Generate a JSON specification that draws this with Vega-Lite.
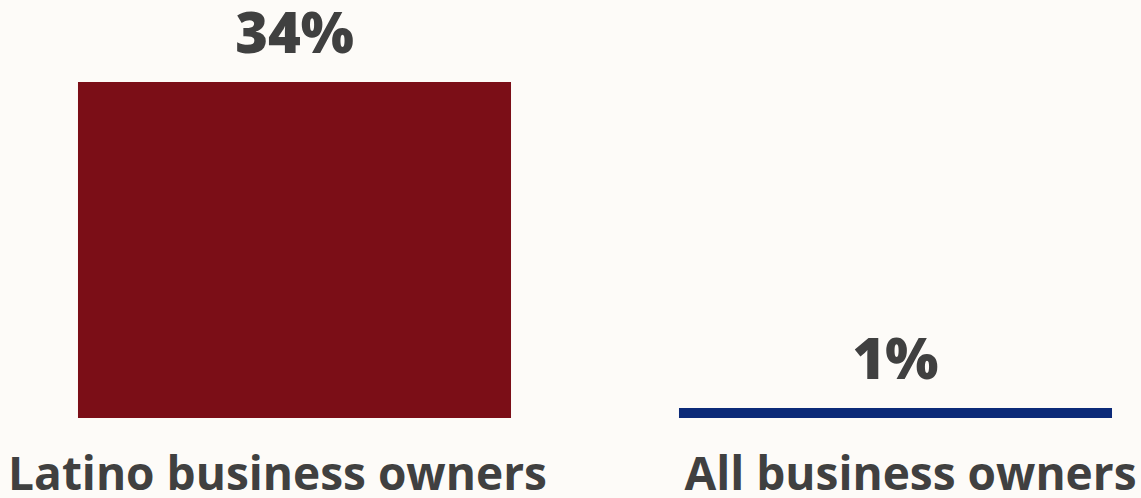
{
  "$schema": "https://vega.github.io/schema/vega-lite/v6.json",
  "width": 1141,
  "height": 418,
  "autosize": {"type": "none"},
  "padding": {"left": 0, "top": 0, "right": 0, "bottom": 80},
  "background": "#fdfbf8",
  "config": {"view": {"stroke": null}},
  "data": {"values": [
    {"group": "Latino business owners", "share": 0.34},
    {"group": "All business owners", "share": 0.01}
  ]},
  "encoding": {
    "x": {
      "field": "group", "type": "nominal", "sort": null,
      "scale": {"paddingInner": 0.2795, "paddingOuter": 0.089, "align": 0.729},
      "axis": {
        "title": null, "domain": false, "ticks": false,
        "labelFontSize": 46, "labelFont": "Open Sans", "labelFontWeight": "bold",
        "labelColor": "#404040", "labelPadding": 71, "labelBaseline": "alphabetic",
        "labelAngle": 0, "labelLimit": 0, "labelOverlap": false,
        "labelOffset": {"condition": {"test": "datum.value === 'Latino business owners'", "value": -17}, "value": 15}
      }
    },
    "y": {"field": "share", "type": "quantitative", "scale": {"domain": [0, 0.423], "nice": false}, "axis": null}
  },
  "layer": [
    {
      "mark": {"type": "bar"},
      "encoding": {
        "color": {
          "field": "group", "type": "nominal",
          "scale": {"domain": ["Latino business owners", "All business owners"], "range": ["#7b0e17", "#0c2a78"]},
          "legend": null
        }
      }
    },
    {
      "mark": {"type": "text", "dy": -29, "baseline": "alphabetic", "font": "Open Sans", "fontWeight": 800, "fontSize": 56, "color": "#404040"},
      "encoding": {"text": {"field": "share", "type": "quantitative", "format": ".0%"}}
    }
  ]
}
